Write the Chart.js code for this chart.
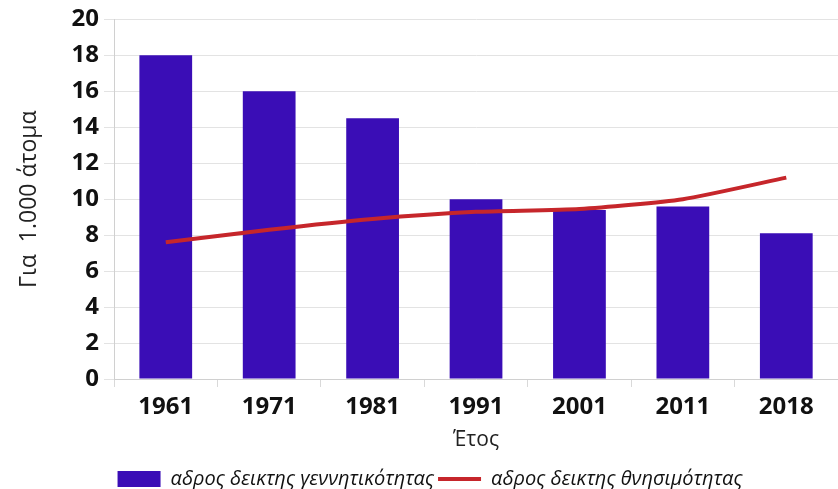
<!DOCTYPE html>
<html>
<head>
<meta charset="utf-8">
<script src="https://cdn.jsdelivr.net/npm/chart.js@4"></script>
<style>
  html, body { margin: 0; padding: 0; background: #fff; overflow: hidden; }
  #wrap { width: 838px; height: 489px; position: relative; }
</style>
</head>
<body>
<div id="wrap"><canvas id="c"></canvas></div>
<script>
const years = ['1961', '1971', '1981', '1991', '2001', '2011', '2018'];
const birthRate = [18.0, 16.0, 14.5, 10.0, 9.4, 9.6, 8.1];
const deathRate = [7.6, 8.3, 8.9, 9.3, 9.45, 10.0, 11.2];
const yTicks = [0, 2, 4, 6, 8, 10, 12, 14, 16, 18, 20];
const birthLabel = 'αδρος δεικτης γεννητικότητας';
const deathLabel = 'αδρος δεικτης θνησιμότητας';
const yTitle = 'Για  1.000 άτομα';
const xTitle = 'Έτος';

const blue = '#3a0db6';
const red = '#c6262b';
const grid = '#e3e3e3';
const tickFont = { family: 'Open Sans', size: 24, weight: 'bold' };

new Chart(document.getElementById('c'), {
  data: {
    labels: years,
    datasets: [
      {
        type: 'line', label: deathLabel, data: deathRate,
        borderColor: red, backgroundColor: red, borderWidth: 4,
        pointRadius: 0, tension: 0.2, order: 0
      },
      {
        type: 'bar', label: birthLabel, data: birthRate,
        backgroundColor: blue, borderWidth: 0,
        categoryPercentage: 1, barPercentage: 0.51, order: 1
      }
    ]
  },
  options: {
    responsive: true, maintainAspectRatio: false, animation: false,
    layout: { padding: { top: 18, right: -6, left: 16, bottom: -10 } },
    plugins: {
      tooltip: { enabled: false },
      legend: {
        position: 'bottom',
        reverse: true,
        labels: {
          color: '#111',
          font: { family: 'Open Sans', size: 20, style: 'italic' },
          usePointStyle: true,
          pointStyleWidth: 43,
          boxHeight: 16,
          padding: 4,
          generateLabels(chart) {
            return chart.data.datasets.map((ds, i) => ({
              text: ds.label,
              datasetIndex: i,
              fillStyle: ds.type === 'bar' ? blue : red,
              strokeStyle: ds.type === 'bar' ? blue : red,
              lineWidth: ds.type === 'bar' ? 0 : 4,
              pointStyle: ds.type === 'bar' ? 'rect' : 'line',
              fontColor: '#111',
              hidden: false
            }));
          }
        }
      }
    },
    scales: {
      x: {
        grid: { display: true, drawOnChartArea: false, drawTicks: true, tickLength: 8, color: '#d9d9d9', offset: true },
        border: { display: true, color: '#d0d0d0' },
        ticks: { color: '#111', font: tickFont, padding: 6 },
        title: { display: true, text: xTitle, color: '#222', font: { family: 'Open Sans', size: 21 }, padding: { top: 0, bottom: 12 } }
      },
      y: {
        min: 0, max: 20,
        afterBuildTicks(axis) { axis.ticks = yTicks.map(v => ({ value: v })); },
        grid: { color: grid, tickLength: 10 },
        border: { display: true, color: '#d0d0d0' },
        ticks: { color: '#111', font: tickFont, padding: 5 },
        title: { display: true, text: yTitle, color: '#222', font: { family: 'Open Sans', size: 23 }, padding: { top: 0, bottom: 23 } }
      }
    }
  }
});
</script>
</body>
</html>
